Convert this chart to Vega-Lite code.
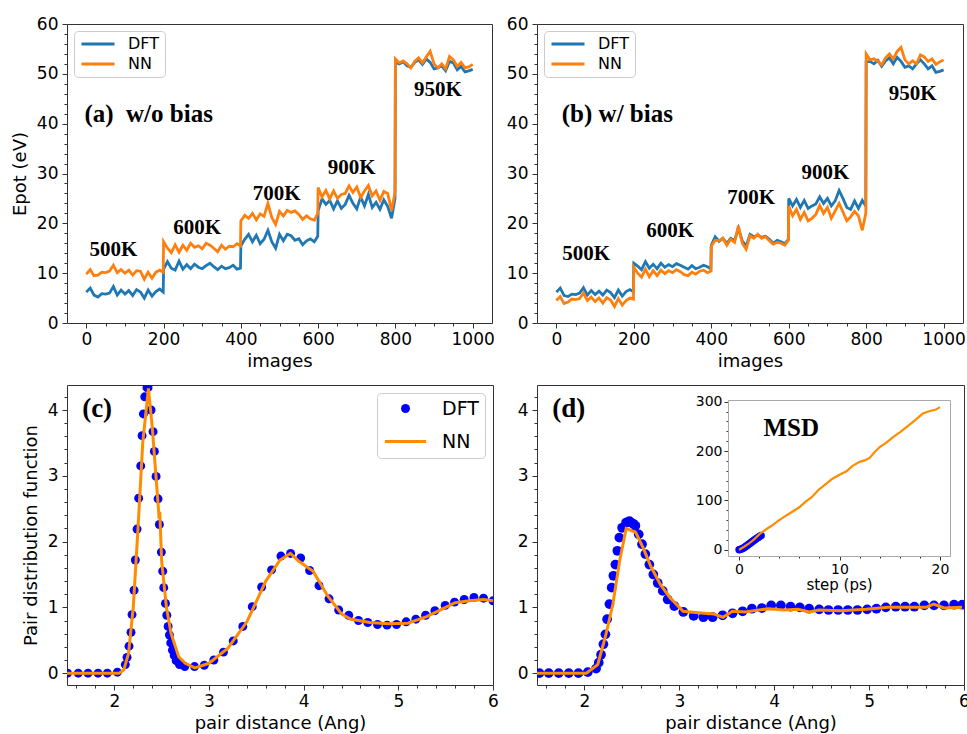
{
"$schema": "https://vega.github.io/schema/vega-lite/v6.json",
"padding": {"left": 10, "top": 14, "right": 2, "bottom": 2},
"config": {
 "font": "DejaVu Sans",
 "view": {"stroke": "#333", "strokeWidth": 1},
 "axis": {"grid": false, "domain": false, "tickColor": "#333", "tickWidth": 1, "labelColor": "#000", "labelFont": "DejaVu Sans", "labelFontSize": 17, "titleFont": "DejaVu Sans", "titleFontSize": 18, "titleFontWeight": "normal", "titleColor": "#000", "labelOverlap": false, "labelFlush": false, "labelBound": false, "tickCount": 200},
 "axisX": {"labelPadding": 3, "titlePadding": 5},
 "axisY": {"labelPadding": 4, "titlePadding": 7}
},
"datasets": {
 "epot": [
  {"p":"a","img":0,"DFT":6.2,"NN":9.8},{"p":"a","img":10,"DFT":7.0,"NN":10.7},{"p":"a","img":20,"DFT":5.6,"NN":9.5},{"p":"a","img":30,"DFT":5.2,"NN":9.6},{"p":"a","img":40,"DFT":5.9,"NN":10.2},{"p":"a","img":50,"DFT":5.8,"NN":10.1},{"p":"a","img":60,"DFT":6.0,"NN":10.4},{"p":"a","img":70,"DFT":7.3,"NN":11.6},{"p":"a","img":80,"DFT":5.6,"NN":10.1},{"p":"a","img":90,"DFT":6.6,"NN":10.7},{"p":"a","img":100,"DFT":5.8,"NN":10.0},{"p":"a","img":110,"DFT":6.5,"NN":10.6},{"p":"a","img":120,"DFT":5.5,"NN":9.6},{"p":"a","img":130,"DFT":6.7,"NN":10.5},{"p":"a","img":140,"DFT":6.2,"NN":10.4},{"p":"a","img":150,"DFT":5.0,"NN":8.8},{"p":"a","img":160,"DFT":6.6,"NN":10.2},{"p":"a","img":170,"DFT":5.4,"NN":9.0},{"p":"a","img":180,"DFT":6.3,"NN":10.2},{"p":"a","img":190,"DFT":6.8,"NN":10.6},{"p":"a","img":199,"DFT":6.2,"NN":10.2},
  {"p":"a","img":200,"DFT":10.8,"NN":16.3},{"p":"a","img":210,"DFT":12.3,"NN":15.0},{"p":"a","img":220,"DFT":11.0,"NN":14.1},{"p":"a","img":230,"DFT":10.6,"NN":15.7},{"p":"a","img":240,"DFT":12.4,"NN":14.2},{"p":"a","img":250,"DFT":10.8,"NN":15.6},{"p":"a","img":260,"DFT":11.7,"NN":14.6},{"p":"a","img":270,"DFT":10.9,"NN":16.0},{"p":"a","img":280,"DFT":11.8,"NN":15.2},{"p":"a","img":290,"DFT":11.2,"NN":15.5},{"p":"a","img":300,"DFT":10.9,"NN":14.9},{"p":"a","img":310,"DFT":11.5,"NN":16.0},{"p":"a","img":320,"DFT":12.0,"NN":15.6},{"p":"a","img":330,"DFT":11.3,"NN":15.0},{"p":"a","img":340,"DFT":10.7,"NN":14.3},{"p":"a","img":350,"DFT":11.4,"NN":15.6},{"p":"a","img":360,"DFT":10.9,"NN":14.8},{"p":"a","img":370,"DFT":11.1,"NN":15.4},{"p":"a","img":380,"DFT":11.6,"NN":15.3},{"p":"a","img":390,"DFT":10.8,"NN":15.9},{"p":"a","img":399,"DFT":11.0,"NN":15.5},
  {"p":"a","img":400,"DFT":15.5,"NN":20.5},{"p":"a","img":410,"DFT":16.8,"NN":21.6},{"p":"a","img":420,"DFT":17.8,"NN":21.0},{"p":"a","img":430,"DFT":16.3,"NN":22.0},{"p":"a","img":440,"DFT":17.6,"NN":20.7},{"p":"a","img":450,"DFT":15.9,"NN":21.9},{"p":"a","img":460,"DFT":16.8,"NN":21.4},{"p":"a","img":470,"DFT":18.6,"NN":24.0},{"p":"a","img":480,"DFT":16.3,"NN":21.2},{"p":"a","img":490,"DFT":15.0,"NN":19.8},{"p":"a","img":500,"DFT":17.8,"NN":22.4},{"p":"a","img":510,"DFT":16.5,"NN":21.5},{"p":"a","img":520,"DFT":17.8,"NN":22.6},{"p":"a","img":530,"DFT":17.5,"NN":22.2},{"p":"a","img":540,"DFT":16.6,"NN":22.5},{"p":"a","img":550,"DFT":16.9,"NN":21.8},{"p":"a","img":560,"DFT":15.7,"NN":20.8},{"p":"a","img":570,"DFT":16.5,"NN":21.5},{"p":"a","img":580,"DFT":16.9,"NN":20.9},{"p":"a","img":590,"DFT":16.3,"NN":20.6},{"p":"a","img":599,"DFT":17.4,"NN":22.0},
  {"p":"a","img":600,"DFT":22.5,"NN":27.2},{"p":"a","img":610,"DFT":24.9,"NN":25.3},{"p":"a","img":620,"DFT":23.8,"NN":26.6},{"p":"a","img":630,"DFT":24.6,"NN":24.9},{"p":"a","img":640,"DFT":22.9,"NN":26.5},{"p":"a","img":650,"DFT":24.5,"NN":25.0},{"p":"a","img":660,"DFT":23.0,"NN":25.8},{"p":"a","img":670,"DFT":23.8,"NN":26.0},{"p":"a","img":680,"DFT":25.6,"NN":27.5},{"p":"a","img":690,"DFT":24.0,"NN":26.2},{"p":"a","img":700,"DFT":22.9,"NN":27.3},{"p":"a","img":710,"DFT":25.3,"NN":25.2},{"p":"a","img":720,"DFT":23.5,"NN":26.5},{"p":"a","img":730,"DFT":25.8,"NN":27.6},{"p":"a","img":740,"DFT":23.2,"NN":25.5},{"p":"a","img":750,"DFT":24.2,"NN":26.5},{"p":"a","img":760,"DFT":22.8,"NN":24.6},{"p":"a","img":770,"DFT":24.7,"NN":26.4},{"p":"a","img":780,"DFT":23.4,"NN":26.0},{"p":"a","img":790,"DFT":21.0,"NN":22.6},{"p":"a","img":799,"DFT":25.0,"NN":26.2},
  {"p":"a","img":800,"DFT":52.3,"NN":53.0},{"p":"a","img":810,"DFT":52.0,"NN":52.2},{"p":"a","img":820,"DFT":52.4,"NN":52.6},{"p":"a","img":830,"DFT":51.6,"NN":52.0},{"p":"a","img":840,"DFT":51.3,"NN":51.2},{"p":"a","img":850,"DFT":52.3,"NN":52.5},{"p":"a","img":860,"DFT":52.8,"NN":53.2},{"p":"a","img":870,"DFT":51.9,"NN":52.2},{"p":"a","img":880,"DFT":53.0,"NN":53.4},{"p":"a","img":890,"DFT":52.3,"NN":54.5},{"p":"a","img":900,"DFT":51.0,"NN":52.0},{"p":"a","img":910,"DFT":51.2,"NN":51.2},{"p":"a","img":920,"DFT":51.6,"NN":52.0},{"p":"a","img":930,"DFT":50.6,"NN":51.0},{"p":"a","img":940,"DFT":52.5,"NN":53.5},{"p":"a","img":950,"DFT":52.2,"NN":52.8},{"p":"a","img":960,"DFT":50.8,"NN":51.5},{"p":"a","img":970,"DFT":51.5,"NN":52.3},{"p":"a","img":980,"DFT":50.4,"NN":51.2},{"p":"a","img":990,"DFT":50.6,"NN":51.4},{"p":"a","img":1000,"DFT":50.9,"NN":51.9},
  {"p":"b","img":0,"DFT":6.2,"NN":4.5},{"p":"b","img":10,"DFT":7.0,"NN":5.3},{"p":"b","img":20,"DFT":5.5,"NN":3.9},{"p":"b","img":30,"DFT":5.3,"NN":4.2},{"p":"b","img":40,"DFT":5.8,"NN":4.8},{"p":"b","img":50,"DFT":5.7,"NN":4.7},{"p":"b","img":60,"DFT":6.0,"NN":4.9},{"p":"b","img":70,"DFT":7.1,"NN":6.0},{"p":"b","img":80,"DFT":5.6,"NN":4.5},{"p":"b","img":90,"DFT":6.5,"NN":5.2},{"p":"b","img":100,"DFT":5.7,"NN":4.3},{"p":"b","img":110,"DFT":6.4,"NN":5.0},{"p":"b","img":120,"DFT":5.6,"NN":4.0},{"p":"b","img":130,"DFT":6.6,"NN":5.1},{"p":"b","img":140,"DFT":6.1,"NN":4.6},{"p":"b","img":150,"DFT":5.1,"NN":3.3},{"p":"b","img":160,"DFT":6.6,"NN":4.9},{"p":"b","img":170,"DFT":5.4,"NN":3.6},{"p":"b","img":180,"DFT":6.3,"NN":4.5},{"p":"b","img":190,"DFT":6.7,"NN":5.0},{"p":"b","img":199,"DFT":6.3,"NN":4.8},
  {"p":"b","img":200,"DFT":12.0,"NN":11.2},{"p":"b","img":210,"DFT":11.4,"NN":10.0},{"p":"b","img":220,"DFT":10.7,"NN":9.2},{"p":"b","img":230,"DFT":12.3,"NN":10.8},{"p":"b","img":240,"DFT":11.0,"NN":9.3},{"p":"b","img":250,"DFT":11.8,"NN":10.5},{"p":"b","img":260,"DFT":10.9,"NN":9.5},{"p":"b","img":270,"DFT":12.0,"NN":10.6},{"p":"b","img":280,"DFT":11.2,"NN":9.9},{"p":"b","img":290,"DFT":11.7,"NN":10.5},{"p":"b","img":300,"DFT":11.3,"NN":10.1},{"p":"b","img":310,"DFT":11.9,"NN":10.7},{"p":"b","img":320,"DFT":11.6,"NN":10.3},{"p":"b","img":330,"DFT":11.2,"NN":9.7},{"p":"b","img":340,"DFT":10.8,"NN":9.5},{"p":"b","img":350,"DFT":11.5,"NN":10.2},{"p":"b","img":360,"DFT":10.9,"NN":9.8},{"p":"b","img":370,"DFT":11.2,"NN":10.4},{"p":"b","img":380,"DFT":11.6,"NN":10.6},{"p":"b","img":390,"DFT":11.3,"NN":10.1},{"p":"b","img":399,"DFT":10.8,"NN":10.4},
  {"p":"b","img":400,"DFT":15.6,"NN":15.4},{"p":"b","img":410,"DFT":17.3,"NN":16.6},{"p":"b","img":420,"DFT":16.4,"NN":16.5},{"p":"b","img":430,"DFT":17.0,"NN":17.0},{"p":"b","img":440,"DFT":16.0,"NN":15.6},{"p":"b","img":450,"DFT":17.0,"NN":16.8},{"p":"b","img":460,"DFT":16.5,"NN":16.2},{"p":"b","img":470,"DFT":19.0,"NN":19.5},{"p":"b","img":480,"DFT":16.5,"NN":16.0},{"p":"b","img":490,"DFT":15.4,"NN":14.8},{"p":"b","img":500,"DFT":17.8,"NN":17.5},{"p":"b","img":510,"DFT":17.3,"NN":17.0},{"p":"b","img":520,"DFT":17.6,"NN":17.8},{"p":"b","img":530,"DFT":17.2,"NN":17.0},{"p":"b","img":540,"DFT":17.4,"NN":17.3},{"p":"b","img":550,"DFT":16.8,"NN":16.5},{"p":"b","img":560,"DFT":16.0,"NN":15.8},{"p":"b","img":570,"DFT":16.6,"NN":16.2},{"p":"b","img":580,"DFT":16.3,"NN":16.0},{"p":"b","img":590,"DFT":15.9,"NN":15.6},{"p":"b","img":599,"DFT":16.8,"NN":16.6},
  {"p":"b","img":600,"DFT":25.0,"NN":23.5},{"p":"b","img":610,"DFT":23.5,"NN":21.5},{"p":"b","img":620,"DFT":24.8,"NN":22.8},{"p":"b","img":630,"DFT":23.2,"NN":20.8},{"p":"b","img":640,"DFT":24.6,"NN":22.2},{"p":"b","img":650,"DFT":23.0,"NN":20.5},{"p":"b","img":660,"DFT":23.5,"NN":21.0},{"p":"b","img":670,"DFT":23.9,"NN":21.8},{"p":"b","img":680,"DFT":25.3,"NN":23.6},{"p":"b","img":690,"DFT":24.0,"NN":22.0},{"p":"b","img":700,"DFT":25.0,"NN":23.2},{"p":"b","img":710,"DFT":23.5,"NN":21.0},{"p":"b","img":720,"DFT":24.5,"NN":22.5},{"p":"b","img":730,"DFT":26.6,"NN":24.0},{"p":"b","img":740,"DFT":25.0,"NN":22.3},{"p":"b","img":750,"DFT":23.2,"NN":20.5},{"p":"b","img":760,"DFT":22.8,"NN":21.3},{"p":"b","img":770,"DFT":24.5,"NN":22.4},{"p":"b","img":780,"DFT":23.0,"NN":21.5},{"p":"b","img":790,"DFT":24.6,"NN":18.6},{"p":"b","img":799,"DFT":23.5,"NN":22.0},
  {"p":"b","img":800,"DFT":52.4,"NN":54.0},{"p":"b","img":810,"DFT":52.5,"NN":52.8},{"p":"b","img":820,"DFT":52.0,"NN":53.0},{"p":"b","img":830,"DFT":52.7,"NN":52.5},{"p":"b","img":840,"DFT":51.5,"NN":51.8},{"p":"b","img":850,"DFT":52.6,"NN":53.2},{"p":"b","img":860,"DFT":53.2,"NN":54.0},{"p":"b","img":870,"DFT":52.0,"NN":53.0},{"p":"b","img":880,"DFT":53.3,"NN":54.5},{"p":"b","img":890,"DFT":52.5,"NN":55.3},{"p":"b","img":900,"DFT":51.3,"NN":52.8},{"p":"b","img":910,"DFT":51.6,"NN":52.0},{"p":"b","img":920,"DFT":51.0,"NN":52.6},{"p":"b","img":930,"DFT":52.0,"NN":52.0},{"p":"b","img":940,"DFT":52.8,"NN":53.8},{"p":"b","img":950,"DFT":52.0,"NN":53.4},{"p":"b","img":960,"DFT":51.0,"NN":52.5},{"p":"b","img":970,"DFT":51.6,"NN":53.0},{"p":"b","img":980,"DFT":50.3,"NN":51.9},{"p":"b","img":990,"DFT":50.5,"NN":52.4},{"p":"b","img":1000,"DFT":50.8,"NN":52.8}
 ],
 "labAB": [
  {"p":"a","k":"panel","img":-5,"E":41.9,"t":"(a) \u00a0w/o bias"},
  {"p":"a","k":"temp","img":70,"E":14.6,"t":"500K"},
  {"p":"a","k":"temp","img":287,"E":19.1,"t":"600K"},
  {"p":"a","k":"temp","img":493,"E":25.9,"t":"700K"},
  {"p":"a","k":"temp","img":687,"E":31.1,"t":"900K"},
  {"p":"a","k":"temp","img":910,"E":46.7,"t":"950K"},
  {"p":"b","k":"panel","img":14,"E":41.9,"t":"(b) w/ bias"},
  {"p":"b","k":"temp","img":77,"E":13.8,"t":"500K"},
  {"p":"b","k":"temp","img":294,"E":18.4,"t":"600K"},
  {"p":"b","k":"temp","img":503,"E":25.1,"t":"700K"},
  {"p":"b","k":"temp","img":695,"E":30.1,"t":"900K"},
  {"p":"b","k":"temp","img":920,"E":45.9,"t":"950K"}
 ],
 "labCD": [
  {"p":"c","r":1.66,"g":4.02,"t":"(c)"},
  {"p":"d","r":1.66,"g":4.02,"t":"(d)"}
 ],
 "labMSD": [{"step":5.2,"msd":247,"t":"MSD"}],
 "pdfC": [
  {"r":1.506,"g":0},{"r":1.619,"g":0},{"r":1.722,"g":0},{"r":1.828,"g":0},{"r":1.926,"g":0},{"r":2.032,"g":0.015},{"r":2.116,"g":0.13},{"r":2.134,"g":0.24},{"r":2.155,"g":0.41},{"r":2.176,"g":0.62},{"r":2.187,"g":0.89},{"r":2.208,"g":1.26},{"r":2.222,"g":1.72},{"r":2.24,"g":2.19},{"r":2.257,"g":2.66},{"r":2.279,"g":3.15},{"r":2.293,"g":3.61},{"r":2.307,"g":3.94},{"r":2.321,"g":4.2},{"r":2.345,"g":4.34},{"r":2.356,"g":4.34},{"r":2.388,"g":4.0},{"r":2.409,"g":3.67},{"r":2.423,"g":3.37},{"r":2.441,"g":2.99},{"r":2.462,"g":2.65},{"r":2.476,"g":2.26},{"r":2.497,"g":1.84},{"r":2.511,"g":1.55},{"r":2.522,"g":1.3},{"r":2.54,"g":1.06},{"r":2.554,"g":0.88},{"r":2.568,"g":0.71},{"r":2.582,"g":0.58},{"r":2.596,"g":0.46},{"r":2.614,"g":0.35},{"r":2.632,"g":0.27},{"r":2.653,"g":0.19},{"r":2.688,"g":0.13},{"r":2.744,"g":0.1},{"r":2.847,"g":0.1},{"r":2.95,"g":0.12},{"r":3.051,"g":0.2},{"r":3.153,"g":0.32},{"r":3.256,"g":0.49},{"r":3.357,"g":0.71},{"r":3.457,"g":1.01},{"r":3.556,"g":1.31},{"r":3.661,"g":1.57},{"r":3.76,"g":1.78},{"r":3.862,"g":1.82},{"r":3.968,"g":1.75},{"r":4.063,"g":1.56},{"r":4.162,"g":1.33},{"r":4.268,"g":1.13},{"r":4.37,"g":0.96},{"r":4.476,"g":0.88},{"r":4.579,"g":0.8},{"r":4.677,"g":0.77},{"r":4.78,"g":0.74},{"r":4.881,"g":0.73},{"r":4.981,"g":0.74},{"r":5.083,"g":0.78},{"r":5.185,"g":0.82},{"r":5.288,"g":0.88},{"r":5.386,"g":0.95},{"r":5.495,"g":1.03},{"r":5.594,"g":1.08},{"r":5.696,"g":1.12},{"r":5.799,"g":1.15},{"r":5.9,"g":1.14},{"r":6.0,"g":1.1}
 ],
 "nnC": [
  {"r":1.5,"g":0},{"r":2.05,"g":0},{"r":2.1,"g":0.05},{"r":2.15,"g":0.3},{"r":2.2,"g":1.0},{"r":2.25,"g":2.2},{"r":2.3,"g":3.5},{"r":2.36,"g":4.33},{"r":2.4,"g":3.75},{"r":2.45,"g":2.8},{"r":2.47,"g":2.42},{"r":2.48,"g":2.45},{"r":2.5,"g":1.7},{"r":2.55,"g":1.0},{"r":2.6,"g":0.6},{"r":2.68,"g":0.25},{"r":2.75,"g":0.15},{"r":2.85,"g":0.08},{"r":3.0,"g":0.15},{"r":3.2,"g":0.38},{"r":3.4,"g":0.78},{"r":3.6,"g":1.4},{"r":3.75,"g":1.72},{"r":3.86,"g":1.82},{"r":3.95,"g":1.7},{"r":4.1,"g":1.55},{"r":4.25,"g":1.18},{"r":4.4,"g":0.9},{"r":4.5,"g":0.82},{"r":4.7,"g":0.77},{"r":4.9,"g":0.75},{"r":5.1,"g":0.76},{"r":5.3,"g":0.86},{"r":5.5,"g":1.0},{"r":5.6,"g":1.07},{"r":5.75,"g":1.1},{"r":5.9,"g":1.12},{"r":6.0,"g":1.1}
 ],
 "pdfD": [
  {"r":1.526,"g":0},{"r":1.624,"g":0},{"r":1.729,"g":0},{"r":1.835,"g":0},{"r":1.937,"g":0},{"r":2.035,"g":0.015},{"r":2.123,"g":0.07},{"r":2.151,"g":0.16},{"r":2.175,"g":0.28},{"r":2.2,"g":0.44},{"r":2.221,"g":0.59},{"r":2.239,"g":0.82},{"r":2.263,"g":1.05},{"r":2.287,"g":1.3},{"r":2.305,"g":1.48},{"r":2.326,"g":1.65},{"r":2.347,"g":1.86},{"r":2.368,"g":2.06},{"r":2.397,"g":2.21},{"r":2.439,"g":2.29},{"r":2.46,"g":2.3},{"r":2.475,"g":2.31},{"r":2.491,"g":2.29},{"r":2.515,"g":2.27},{"r":2.537,"g":2.24},{"r":2.572,"g":2.11},{"r":2.607,"g":1.96},{"r":2.642,"g":1.81},{"r":2.684,"g":1.65},{"r":2.726,"g":1.5},{"r":2.772,"g":1.37},{"r":2.825,"g":1.25},{"r":2.877,"g":1.12},{"r":2.947,"g":1.02},{"r":3.042,"g":0.93},{"r":3.151,"g":0.87},{"r":3.253,"g":0.85},{"r":3.351,"g":0.85},{"r":3.456,"g":0.88},{"r":3.561,"g":0.91},{"r":3.667,"g":0.94},{"r":3.765,"g":0.98},{"r":3.87,"g":0.99},{"r":3.968,"g":1.03},{"r":4.07,"g":1.03},{"r":4.172,"g":1.01},{"r":4.27,"g":1.0},{"r":4.368,"g":0.98},{"r":4.474,"g":0.97},{"r":4.572,"g":0.96},{"r":4.674,"g":0.96},{"r":4.776,"g":0.96},{"r":4.877,"g":0.96},{"r":4.979,"g":0.97},{"r":5.077,"g":0.98},{"r":5.176,"g":1.0},{"r":5.281,"g":1.01},{"r":5.379,"g":1.01},{"r":5.477,"g":1.01},{"r":5.582,"g":1.03},{"r":5.684,"g":1.03},{"r":5.789,"g":1.03},{"r":5.895,"g":1.04},{"r":5.982,"g":1.04}
 ],
 "nnD": [
  {"r":1.5,"g":0},{"r":2.02,"g":0},{"r":2.14,"g":0.13},{"r":2.22,"g":0.55},{"r":2.3,"g":1.05},{"r":2.37,"g":1.7},{"r":2.44,"g":2.2},{"r":2.54,"g":2.14},{"r":2.62,"g":1.9},{"r":2.7,"g":1.62},{"r":2.8,"g":1.35},{"r":2.9,"g":1.15},{"r":3.04,"g":0.94},{"r":3.2,"g":0.92},{"r":3.36,"g":0.9},{"r":3.46,"g":0.85},{"r":3.56,"g":0.94},{"r":3.7,"g":0.93},{"r":3.94,"g":0.98},{"r":4.1,"g":0.96},{"r":4.25,"g":0.97},{"r":4.37,"g":0.93},{"r":4.47,"g":0.96},{"r":4.7,"g":0.95},{"r":4.97,"g":0.97},{"r":5.2,"g":1.0},{"r":5.4,"g":1.0},{"r":5.6,"g":1.0},{"r":5.68,"g":1.05},{"r":5.79,"g":0.99},{"r":5.98,"g":1.0}
 ],
 "msdNN": [
  {"step":0,"msd":0},{"step":0.5,"msd":6},{"step":1.0,"msd":13},{"step":1.5,"msd":21},{"step":2.06,"msd":32},{"step":2.6,"msd":40},{"step":3.2,"msd":48},{"step":4.0,"msd":60},{"step":4.6,"msd":68},{"step":5.3,"msd":77},{"step":6.0,"msd":86},{"step":6.6,"msd":97},{"step":7.2,"msd":106},{"step":7.9,"msd":121},{"step":8.5,"msd":131},{"step":9.3,"msd":144},{"step":10.0,"msd":152},{"step":10.7,"msd":159},{"step":11.3,"msd":170},{"step":12.0,"msd":178},{"step":12.5,"msd":181},{"step":13.0,"msd":186},{"step":13.5,"msd":198},{"step":14.0,"msd":208},{"step":14.6,"msd":216},{"step":15.4,"msd":229},{"step":16.0,"msd":238},{"step":16.7,"msd":249},{"step":17.5,"msd":262},{"step":18.3,"msd":276},{"step":19.0,"msd":281},{"step":19.6,"msd":284},{"step":20.0,"msd":289}
 ],
 "msdDFT": [
  {"step":0,"msd":0},{"step":0.1,"msd":0.6},{"step":0.2,"msd":1.3},{"step":0.3,"msd":2.1},{"step":0.4,"msd":3.1},{"step":0.5,"msd":4.3},{"step":0.6,"msd":5.6},{"step":0.7,"msd":7.0},{"step":0.8,"msd":8.5},{"step":0.9,"msd":10.0},{"step":1.0,"msd":11.5},{"step":1.1,"msd":13.0},{"step":1.2,"msd":14.6},{"step":1.3,"msd":16.1},{"step":1.4,"msd":17.6},{"step":1.5,"msd":19.1},{"step":1.6,"msd":20.6},{"step":1.7,"msd":22.1},{"step":1.8,"msd":23.6},{"step":1.9,"msd":25.0},{"step":2.0,"msd":26.4},{"step":2.1,"msd":27.6},{"step":2.2,"msd":28.7}
 ]
},
"columns": 2,
"spacing": {"row": 62, "column": 44},
"bounds": "flush",
"resolve": {
 "scale": {"color": "independent", "fill": "independent", "stroke": "independent", "shape": "independent", "size": "independent"},
 "legend": {"color": "independent", "fill": "independent", "stroke": "independent", "shape": "independent", "size": "independent"}
},
"concat": [
   {
    "width": 425, "height": 299,
    "layer": [
     {
      "data": {"name": "epot"},
      "transform": [{"filter": "datum.p === 'a'"}, {"fold": ["DFT", "NN"], "as": ["s", "E"]}],
      "mark": {"type": "line", "strokeWidth": 2.8, "clip": true},
      "encoding": {
       "x": {"field": "img", "type": "quantitative", "scale": {"domain": [-50, 1050], "nice": false, "zero": false},
        "axis": {"title": "images", "tickCount": 200, "labelOverlap": false, "values": [0,50,100,150,200,250,300,350,400,450,500,550,600,650,700,750,800,850,900,950,1000], "labelExpr": "datum.value % 200 === 0 ? format(datum.value, 'd') : ''", "tickSize": {"condition": {"test": "datum.value % 200 === 0", "value": 5}, "value": 3}}},
       "y": {"field": "E", "type": "quantitative", "scale": {"domain": [0, 60], "nice": false, "zero": false},
        "axis": {"title": "Epot (eV)", "tickCount": 200, "labelOverlap": false, "values": [0,2,4,6,8,10,12,14,16,18,20,22,24,26,28,30,32,34,36,38,40,42,44,46,48,50,52,54,56,58,60], "labelExpr": "datum.value % 10 === 0 ? format(datum.value, 'd') : ''", "tickSize": {"condition": {"test": "datum.value % 10 === 0", "value": 5}, "value": 3}}},
       "color": {"field": "s", "type": "nominal", "scale": {"domain": ["DFT", "NN"], "range": ["#1f77b4", "#ff7f0e"]},
        "legend": {"title": null, "orient": "top-left", "offset": 7, "symbolType": "M-3,0H3", "symbolStrokeWidth": 3, "symbolSize": 121, "symbolOffset": 11, "labelFontSize": 16, "labelFont": "DejaVu Sans", "labelColor": "#000", "labelOffset": 22, "padding": 5, "rowPadding": 4, "strokeColor": "#ccc", "fillColor": "#fff", "cornerRadius": 4}}
      }
     },
     {
      "data": {"name": "labAB"},
      "transform": [{"filter": "datum.p === 'a' && datum.k === 'panel'"}],
      "mark": {"type": "text", "font": "Liberation Serif", "fontWeight": "bold", "fontSize": 25, "align": "left", "baseline": "middle", "color": "#000"},
      "encoding": {"x": {"field": "img", "type": "quantitative"}, "y": {"field": "E", "type": "quantitative"}, "text": {"field": "t"}}
     },
     {
      "data": {"name": "labAB"},
      "transform": [{"filter": "datum.p === 'a' && datum.k === 'temp'"}],
      "mark": {"type": "text", "font": "Liberation Serif", "fontWeight": "bold", "fontSize": 21, "align": "center", "baseline": "middle", "color": "#000"},
      "encoding": {"x": {"field": "img", "type": "quantitative"}, "y": {"field": "E", "type": "quantitative"}, "text": {"field": "t"}}
     }
    ]
   },
   {
    "width": 426, "height": 299,
    "layer": [
     {
      "data": {"name": "epot"},
      "transform": [{"filter": "datum.p === 'b'"}, {"fold": ["DFT", "NN"], "as": ["s", "E"]}],
      "mark": {"type": "line", "strokeWidth": 2.8, "clip": true},
      "encoding": {
       "x": {"field": "img", "type": "quantitative", "scale": {"domain": [-50, 1050], "nice": false, "zero": false},
        "axis": {"title": "images", "tickCount": 200, "labelOverlap": false, "values": [0,50,100,150,200,250,300,350,400,450,500,550,600,650,700,750,800,850,900,950,1000], "labelExpr": "datum.value % 200 === 0 ? format(datum.value, 'd') : ''", "tickSize": {"condition": {"test": "datum.value % 200 === 0", "value": 5}, "value": 3}}},
       "y": {"field": "E", "type": "quantitative", "scale": {"domain": [0, 60], "nice": false, "zero": false},
        "axis": {"title": null, "tickCount": 200, "labelOverlap": false, "values": [0,2,4,6,8,10,12,14,16,18,20,22,24,26,28,30,32,34,36,38,40,42,44,46,48,50,52,54,56,58,60], "labelExpr": "datum.value % 10 === 0 ? format(datum.value, 'd') : ''", "tickSize": {"condition": {"test": "datum.value % 10 === 0", "value": 5}, "value": 3}}},
       "color": {"field": "s", "type": "nominal", "scale": {"domain": ["DFT", "NN"], "range": ["#1f77b4", "#ff7f0e"]},
        "legend": {"title": null, "orient": "top-left", "offset": 7, "symbolType": "M-3,0H3", "symbolStrokeWidth": 3, "symbolSize": 121, "symbolOffset": 11, "labelFontSize": 16, "labelFont": "DejaVu Sans", "labelColor": "#000", "labelOffset": 22, "padding": 5, "rowPadding": 4, "strokeColor": "#ccc", "fillColor": "#fff", "cornerRadius": 4}}
      }
     },
     {
      "data": {"name": "labAB"},
      "transform": [{"filter": "datum.p === 'b' && datum.k === 'panel'"}],
      "mark": {"type": "text", "font": "Liberation Serif", "fontWeight": "bold", "fontSize": 25, "align": "left", "baseline": "middle", "color": "#000"},
      "encoding": {"x": {"field": "img", "type": "quantitative"}, "y": {"field": "E", "type": "quantitative"}, "text": {"field": "t"}}
     },
     {
      "data": {"name": "labAB"},
      "transform": [{"filter": "datum.p === 'b' && datum.k === 'temp'"}],
      "mark": {"type": "text", "font": "Liberation Serif", "fontWeight": "bold", "fontSize": 21, "align": "center", "baseline": "middle", "color": "#000"},
      "encoding": {"x": {"field": "img", "type": "quantitative"}, "y": {"field": "E", "type": "quantitative"}, "text": {"field": "t"}}
     }
    ]
   },
   {
    "width": 426, "height": 300,
    "layer": [
     {
      "data": {"name": "pdfC"},
      "mark": {"type": "point", "filled": true, "opacity": 1, "strokeWidth": 0, "clip": true},
      "encoding": {
       "x": {"field": "r", "type": "quantitative", "scale": {"domain": [1.5, 6], "nice": false, "zero": false},
        "axis": {"title": "pair distance (Ang)", "tickCount": 200, "labelOverlap": false, "values": [1.6,1.8,2,2.2,2.4,2.6,2.8,3,3.2,3.4,3.6,3.8,4,4.2,4.4,4.6,4.8,5,5.2,5.4,5.6,5.8,6], "labelExpr": "abs(datum.value - round(datum.value)) < 0.001 ? format(datum.value, 'd') : ''", "tickSize": {"condition": {"test": "abs(datum.value - round(datum.value)) < 0.001", "value": 5}, "value": 3}}},
       "y": {"field": "g", "type": "quantitative", "scale": {"domain": [-0.18, 4.38], "nice": false, "zero": false},
        "axis": {"title": "Pair distribution function", "tickCount": 200, "labelOverlap": false, "values": [0,0.2,0.4,0.6,0.8,1,1.2,1.4,1.6,1.8,2,2.2,2.4,2.6,2.8,3,3.2,3.4,3.6,3.8,4,4.2], "labelExpr": "abs(datum.value - round(datum.value)) < 0.001 ? format(datum.value, 'd') : ''", "tickSize": {"condition": {"test": "abs(datum.value - round(datum.value)) < 0.001", "value": 5}, "value": 3}}},
       "fill": {"datum": "DFT", "type": "nominal", "scale": {"domain": ["DFT", "NN"], "range": ["#0000ff", "transparent"]},
        "legend": {"title": null, "orient": "top-right", "offset": 8, "labelFontSize": 19, "labelFont": "DejaVu Sans", "labelColor": "#000", "labelOffset": 14, "padding": 6, "rowPadding": -6, "strokeColor": "#ccc", "fillColor": "#fff", "cornerRadius": 4, "symbolStrokeWidth": 3, "symbolOpacity": 1}},
       "stroke": {"datum": "DFT", "type": "nominal", "scale": {"domain": ["DFT", "NN"], "range": ["transparent", "#ff8c00"]},
        "legend": {"title": null, "orient": "top-right", "offset": 8, "labelFontSize": 19, "labelFont": "DejaVu Sans", "labelColor": "#000", "labelOffset": 14, "padding": 6, "rowPadding": -6, "strokeColor": "#ccc", "fillColor": "#fff", "cornerRadius": 4, "symbolStrokeWidth": 3, "symbolOpacity": 1}},
       "shape": {"datum": "DFT", "type": "nominal", "scale": {"domain": ["DFT", "NN"], "range": ["circle", "stroke"]},
        "legend": {"title": null, "orient": "top-right", "offset": 8, "labelFontSize": 19, "labelFont": "DejaVu Sans", "labelColor": "#000", "labelOffset": 14, "padding": 6, "rowPadding": -6, "strokeColor": "#ccc", "fillColor": "#fff", "cornerRadius": 4, "symbolStrokeWidth": 3, "symbolOpacity": 1}},
       "size": {"datum": "DFT", "type": "nominal", "scale": {"domain": ["DFT", "NN"], "range": [80, 1700]},
        "legend": {"title": null, "orient": "top-right", "offset": 8, "labelFontSize": 19, "labelFont": "DejaVu Sans", "labelColor": "#000", "labelOffset": 14, "padding": 6, "rowPadding": -6, "strokeColor": "#ccc", "fillColor": "#fff", "cornerRadius": 4, "symbolStrokeWidth": 3, "symbolOpacity": 1}}
      }
     },
     {
      "data": {"name": "nnC"},
      "mark": {"type": "line", "strokeWidth": 3, "color": "#ff8c00", "clip": true},
      "encoding": {"x": {"field": "r", "type": "quantitative"}, "y": {"field": "g", "type": "quantitative"}}
     },
     {
      "data": {"name": "labCD"},
      "transform": [{"filter": "datum.p === 'c'"}],
      "mark": {"type": "text", "font": "Liberation Serif", "fontWeight": "bold", "fontSize": 27, "align": "left", "baseline": "middle", "color": "#000"},
      "encoding": {"x": {"field": "r", "type": "quantitative"}, "y": {"field": "g", "type": "quantitative"}, "text": {"field": "t"}}
     }
    ]
   },
   {
    "width": 427, "height": 300,
    "resolve": {"scale": {"x": "independent", "y": "independent"}, "axis": {"x": "independent", "y": "independent"}},
    "layer": [
     {
      "layer": [
       {
        "data": {"name": "pdfD"},
        "mark": {"type": "point", "filled": true, "size": 95, "opacity": 1, "color": "#0000ff", "clip": true},
        "encoding": {
         "x": {"field": "r", "type": "quantitative", "scale": {"domain": [1.5, 6], "nice": false, "zero": false},
          "axis": {"title": "pair distance (Ang)", "tickCount": 200, "labelOverlap": false, "values": [1.6,1.8,2,2.2,2.4,2.6,2.8,3,3.2,3.4,3.6,3.8,4,4.2,4.4,4.6,4.8,5,5.2,5.4,5.6,5.8,6], "labelExpr": "abs(datum.value - round(datum.value)) < 0.001 ? format(datum.value, 'd') : ''", "tickSize": {"condition": {"test": "abs(datum.value - round(datum.value)) < 0.001", "value": 5}, "value": 3}}},
         "y": {"field": "g", "type": "quantitative", "scale": {"domain": [-0.18, 4.38], "nice": false, "zero": false},
          "axis": {"title": null, "tickCount": 200, "labelOverlap": false, "values": [0,0.2,0.4,0.6,0.8,1,1.2,1.4,1.6,1.8,2,2.2,2.4,2.6,2.8,3,3.2,3.4,3.6,3.8,4,4.2], "labelExpr": "abs(datum.value - round(datum.value)) < 0.001 ? format(datum.value, 'd') : ''", "tickSize": {"condition": {"test": "abs(datum.value - round(datum.value)) < 0.001", "value": 5}, "value": 3}}}
        }
       },
       {
        "data": {"name": "nnD"},
        "mark": {"type": "line", "strokeWidth": 3, "color": "#ff8c00", "clip": true},
        "encoding": {"x": {"field": "r", "type": "quantitative"}, "y": {"field": "g", "type": "quantitative"}}
       },
       {
        "data": {"name": "labCD"},
        "transform": [{"filter": "datum.p === 'd'"}],
        "mark": {"type": "text", "font": "Liberation Serif", "fontWeight": "bold", "fontSize": 27, "align": "left", "baseline": "middle", "color": "#000"},
        "encoding": {"x": {"field": "r", "type": "quantitative"}, "y": {"field": "g", "type": "quantitative"}, "text": {"field": "t"}}
       }
      ]
     },
     {
      "resolve": {"axis": {"x": "independent", "y": "independent"}},
      "layer": [
       {
        "data": {"name": "msdDFT"},
        "mark": {"type": "point", "filled": true, "size": 55, "opacity": 1, "color": "#0000ff"},
        "encoding": {
         "x": {"field": "step", "type": "quantitative", "scale": {"domain": [-1.1, 21], "nice": false, "zero": false, "range": [191, 413]},
          "axis": {"orient": "bottom", "offset": -129, "title": "step (ps)", "titleFontSize": 15, "titlePadding": 1, "labelFontSize": 14, "labelPadding": 2, "tickCount": 200, "labelOverlap": false, "domain": true, "domainColor": "#aaa", "values": [0,2,4,6,8,10,12,14,16,18,20], "labelExpr": "datum.value % 10 === 0 ? format(datum.value, 'd') : ''", "tickSize": {"condition": {"test": "datum.value % 10 === 0", "value": 4}, "value": 2}}},
         "y": {"field": "msd", "type": "quantitative", "scale": {"domain": [-12.7, 303.4], "nice": false, "zero": false, "range": [171, 15]},
          "axis": {"orient": "left", "offset": -191, "title": null, "labelFontSize": 14, "labelPadding": 2, "tickCount": 200, "labelOverlap": false, "domain": true, "domainColor": "#aaa", "values": [0,20,40,60,80,100,120,140,160,180,200,220,240,260,280,300], "labelExpr": "datum.value % 100 === 0 ? format(datum.value, 'd') : ''", "tickSize": {"condition": {"test": "datum.value % 100 === 0", "value": 4}, "value": 2}}}
        }
       },
       {
        "data": {"name": "msdNN"},
        "mark": {"type": "line", "strokeWidth": 2.2, "color": "#ff8c00"},
        "encoding": {
         "x": {"field": "step", "type": "quantitative", "axis": {"orient": "top", "offset": -15, "title": null, "labels": false, "ticks": false, "domain": true, "domainColor": "#aaa"}},
         "y": {"field": "msd", "type": "quantitative", "axis": {"orient": "right", "offset": -14, "title": null, "labels": false, "ticks": false, "domain": true, "domainColor": "#aaa"}}
        }
       },
       {
        "data": {"name": "labMSD"},
        "mark": {"type": "text", "font": "Liberation Serif", "fontWeight": "bold", "fontSize": 25, "align": "center", "baseline": "middle", "color": "#000"},
        "encoding": {"x": {"field": "step", "type": "quantitative", "axis": null}, "y": {"field": "msd", "type": "quantitative", "axis": null}, "text": {"field": "t"}}
       }
      ]
     }
    ]
   }
]
}
